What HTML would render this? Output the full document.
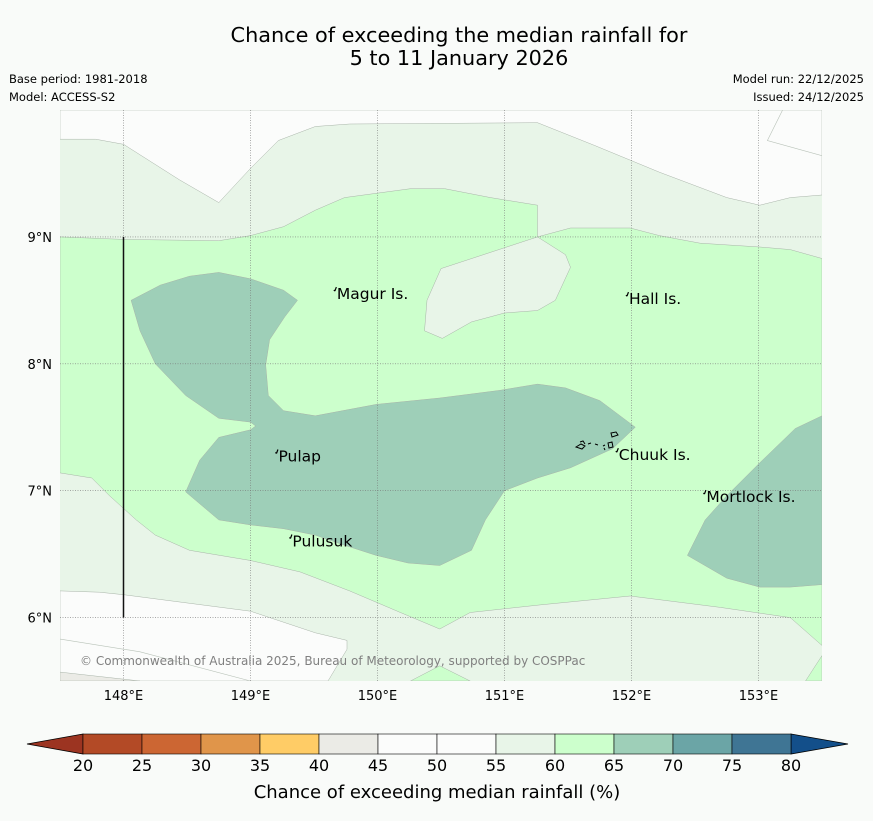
<!DOCTYPE html>
<html><head><meta charset="utf-8">
<style>
html,body{margin:0;padding:0;background:#f9fbf9;}
body{width:873px;height:816px;overflow:hidden;font-family:"Liberation Sans","DejaVu Sans",sans-serif;}
svg text{font-family:"DejaVu Sans","Liberation Sans",sans-serif;}
</style></head>
<body>
<svg id="chart" width="873" height="816" xmlns="http://www.w3.org/2000/svg">
<rect width="873" height="816" fill="#f9fbf9"/>
<text x="459" y="42" font-size="20.8" text-anchor="middle" fill="#000">Chance of exceeding the median rainfall for</text>
<text x="459" y="65" font-size="20.8" text-anchor="middle" fill="#000">5 to 11 January 2026</text>
<text x="9" y="83" font-size="11.5">Base period: 1981-2018</text>
<text x="9" y="101" font-size="11.5">Model: ACCESS-S2</text>
<text x="864" y="83" font-size="11.5" text-anchor="end">Model run: 22/12/2025</text>
<text x="864" y="101" font-size="11.5" text-anchor="end">Issued: 24/12/2025</text>
<defs><clipPath id="mapclip"><rect x="60" y="110" width="762" height="571"/></clipPath></defs>
<g id="map" clip-path="url(#mapclip)"></g>
<g id="axes"></g>
<text x="80" y="665" font-size="12" fill="#808080">© Commonwealth of Australia 2025, Bureau of Meteorology, supported by COSPPac</text>
<g id="cbar"></g>
<text x="437" y="798" font-size="18" text-anchor="middle">Chance of exceeding median rainfall (%)</text>
</svg>
<script>
const NS="http://www.w3.org/2000/svg";
// axis extents
const lonMin=147.5, lonMax=153.5, latMin=5.5, latMax=10;
const lonTicks=[148,149,150,151,152,153];
const latTicks=[6,7,8,9];
// colorbar data
const cbBounds=[20,25,30,35,40,45,50,55,60,65,70,75,80];
const cbColors=["#b34a26","#cc6633","#e0954a","#ffcc66","#ebebe6","#fbfcfb","#fbfcfb","#e8f5e8","#ccffcc","#9ecfb8","#6ba5a6","#3f7594"];
const cbUnder="#9c3421", cbOver="#134f8a";
// contour regions (lon, lat)
const regionWhiteTop=[[147.5,10],[147.5,9.77],[147.78,9.77],[148.0,9.73],[148.44,9.45],[148.75,9.27],[149.0,9.54],[149.22,9.76],[149.51,9.87],[149.78,9.89],[151.26,9.90],[151.71,9.72],[152.22,9.51],[152.75,9.31],[153.01,9.25],[153.25,9.31],[153.5,9.33],[153.5,10]];
const lineTopRight=[[153.19,10],[153.07,9.76],[153.5,9.64]];
const regionWhiteBottom=[[147.5,6.21],[147.81,6.20],[148.0,6.18],[149.0,6.05],[149.51,5.88],[149.76,5.82],[149.76,5.75],[149.61,5.5],[147.5,5.5]];
const lineBottomWhite=[[147.5,5.83],[148.13,5.73],[149.0,5.5]];
const regionGreyCorner=[[147.5,5.57],[148.13,5.5],[147.5,5.5]];
const regionGreen=[[147.5,9.0],[148.0,8.98],[148.75,8.97],[149.0,9.01],[149.26,9.08],[149.51,9.21],[149.74,9.31],[150.26,9.38],[150.53,9.38],[150.89,9.31],[151.26,9.25],[151.26,9.0],[151.52,9.07],[151.99,9.07],[152.22,9.01],[152.54,8.95],[153.01,8.92],[153.25,8.90],[153.5,8.83],[153.5,5.78],[153.25,6.0],[152.70,6.08],[151.99,6.17],[151.28,6.10],[150.73,6.04],[150.49,5.91],[150.18,6.04],[149.78,6.21],[149.39,6.36],[149.0,6.45],[148.52,6.53],[148.25,6.65],[148.10,6.77],[147.89,6.96],[147.75,7.10],[147.5,7.14]];
const regionHole=[[151.26,9.0],[151.48,8.86],[151.52,8.76],[151.40,8.50],[151.26,8.42],[151.0,8.40],[150.74,8.33],[150.51,8.20],[150.37,8.26],[150.39,8.50],[150.50,8.75]];
const regionGreenBlob1=[[150.26,5.5],[150.49,5.62],[150.73,5.5]];
const regionGreenBlob2=[[153.5,5.70],[153.37,5.5],[153.5,5.5]];
const regionTealMain=[[148.06,8.50],[148.29,8.62],[148.52,8.69],[148.75,8.72],[149.0,8.67],[149.26,8.58],[149.37,8.50],[149.27,8.37],[149.15,8.19],[149.12,7.99],[149.14,7.75],[149.26,7.63],[149.51,7.59],[149.99,7.68],[150.49,7.73],[150.96,7.79],[151.26,7.84],[151.48,7.81],[151.75,7.71],[152.03,7.50],[151.85,7.33],[151.52,7.18],[151.26,7.10],[151.0,7.0],[150.85,6.77],[150.74,6.53],[150.49,6.41],[150.24,6.43],[149.99,6.49],[149.74,6.57],[149.51,6.65],[149.26,6.70],[149.0,6.73],[148.75,6.77],[148.49,6.99],[148.60,7.24],[148.75,7.42],[149.0,7.48],[149.04,7.51],[149.0,7.54],[148.75,7.57],[148.49,7.75],[148.25,8.0],[148.13,8.26]];
const regionTealRight=[[153.5,7.59],[153.29,7.49],[153.01,7.22],[152.75,6.96],[152.58,6.77],[152.44,6.49],[152.75,6.31],[153.01,6.24],[153.25,6.24],[153.5,6.26]];
const places=["Magur Is.","Hall Is.","Pulap","Chuuk Is.","Mortlock Is.","Pulusuk"];
const placeLon=[149.68,151.98,149.22,151.90,152.59,149.33];
const placeLat=[8.51,8.47,7.23,7.24,6.91,6.56];

const X0=60,X1=822,Y0=110,Y1=681;
const xS=lon=>X0+(lon-lonMin)/(lonMax-lonMin)*(X1-X0);
const yS=lat=>Y0+(latMax-lat)/(latMax-latMin)*(Y1-Y0);
const map=document.getElementById('map'), axes=document.getElementById('axes'), cbar=document.getElementById('cbar');
function pathD(pts,close){return 'M'+pts.map(q=>xS(q[0]).toFixed(1)+','+yS(q[1]).toFixed(1)).join('L')+(close?'Z':'');}
function poly(parent,pts,fill,name){
  const p=document.createElementNS(NS,'path');
  p.setAttribute('d',pathD(pts,true));
  p.setAttribute('fill',fill);p.setAttribute('stroke','#a8b3a8');p.setAttribute('stroke-width','0.5');
  
  
  parent.appendChild(p);
}
function line(parent,pts,name){
  const p=document.createElementNS(NS,'path');
  p.setAttribute('d',pathD(pts,false));
  p.setAttribute('fill','none');p.setAttribute('stroke','#b8c2b8');p.setAttribute('stroke-width','0.6');
  
  
  parent.appendChild(p);
}
const base=document.createElementNS(NS,'rect');
base.setAttribute('x',X0);base.setAttribute('y',Y0);base.setAttribute('width',X1-X0);base.setAttribute('height',Y1-Y0);base.setAttribute('fill','#e8f5e8');


map.appendChild(base);
poly(map,regionWhiteTop,'#fbfcfb','region-below-55-north');
line(map,lineTopRight,'contour-50-north');
poly(map,regionWhiteBottom,'#fbfcfb','region-below-55-south');
line(map,lineBottomWhite,'contour-50-south');
poly(map,regionGreyCorner,'#ebebe6','region-40-45');
poly(map,regionGreen,'#ccffcc','region-60-65');
poly(map,regionHole,'#e8f5e8','region-55-60-pocket');
poly(map,regionGreenBlob1,'#ccffcc','region-60-65-south');
poly(map,regionGreenBlob2,'#ccffcc','region-60-65-southeast');
poly(map,regionTealMain,'#9ecfb8','region-65-70-main');
poly(map,regionTealRight,'#9ecfb8','region-65-70-east');
// gridlines
lonTicks.forEach(v=>{
  const l=document.createElementNS(NS,'line');
  l.setAttribute('x1',xS(v));l.setAttribute('x2',xS(v));l.setAttribute('y1',Y0);l.setAttribute('y2',Y1);
  l.setAttribute('stroke','#777');l.setAttribute('stroke-width','0.6');l.setAttribute('stroke-dasharray','1,1.5');
  
  
  map.appendChild(l);
  const t=document.createElementNS(NS,'text');
  t.setAttribute('x',xS(v));t.setAttribute('y',700);t.setAttribute('font-size','13');t.setAttribute('text-anchor','middle');
  t.textContent=v+'°E';
  
  
  axes.appendChild(t);
});
latTicks.forEach(v=>{
  const l=document.createElementNS(NS,'line');
  l.setAttribute('x1',X0);l.setAttribute('x2',X1);l.setAttribute('y1',yS(v));l.setAttribute('y2',yS(v));
  l.setAttribute('stroke','#777');l.setAttribute('stroke-width','0.6');l.setAttribute('stroke-dasharray','1,1.5');
  
  
  map.appendChild(l);
  const t=document.createElementNS(NS,'text');
  t.setAttribute('x',52);t.setAttribute('y',yS(v)+5);t.setAttribute('font-size','13');t.setAttribute('text-anchor','end');
  t.textContent=v+'°N';
  
  
  axes.appendChild(t);
});
// boundary line
const bl=document.createElementNS(NS,'line');
bl.setAttribute('x1',xS(148));bl.setAttribute('x2',xS(148));bl.setAttribute('y1',yS(9));bl.setAttribute('y2',yS(6));
bl.setAttribute('stroke','#111');bl.setAttribute('stroke-width','1.5');


map.appendChild(bl);
// places
places.forEach((n,i)=>{
  const m=document.createElementNS(NS,'path');
  const px=xS(placeLon[i]),py=yS(placeLat[i]);
  m.setAttribute('d',`M${px-2},${py-8}l1.5,-4M${px-3},${py-9}l1,1`);
  m.setAttribute('stroke','#000');m.setAttribute('stroke-width','1.2');m.setAttribute('fill','none');
  
  
  map.appendChild(m);
  const t=document.createElementNS(NS,'text');
  t.setAttribute('x',px);t.setAttribute('y',py);t.setAttribute('font-size','15.5');
  t.textContent=n;
  
  
  map.appendChild(t);
});
// chuuk islets
const ch=document.createElementNS(NS,'path');
ch.setAttribute('d','M576,447 l5,-3 4,2 -3,3z M588,444 l3,-1 M595,444 l3,1 M603,446 l2,-1 M608,443 l4,-1 1,5 -4,1z M611,433 l5,-1 2,3 -6,2z M604,448 l1,2 M580,442 l3,-1 2,3');
ch.setAttribute('stroke','#000');ch.setAttribute('stroke-width','1');ch.setAttribute('fill','none');


map.appendChild(ch);
// colorbar
const cbX0=83,cbX1=791,cbY=734,cbH=20;
const cx=v=>cbX0+(v-cbBounds[0])/(cbBounds[cbBounds.length-1]-cbBounds[0])*(cbX1-cbX0);
const tri1=document.createElementNS(NS,'path');
tri1.setAttribute('d',`M${cbX0},${cbY}L27,${cbY+cbH/2}L${cbX0},${cbY+cbH}Z`);tri1.setAttribute('fill',cbUnder);tri1.setAttribute('stroke','#000');tri1.setAttribute('stroke-width','0.8');


cbar.appendChild(tri1);
const tri2=document.createElementNS(NS,'path');
tri2.setAttribute('d',`M${cbX1},${cbY}L848,${cbY+cbH/2}L${cbX1},${cbY+cbH}Z`);tri2.setAttribute('fill',cbOver);tri2.setAttribute('stroke','#000');tri2.setAttribute('stroke-width','0.8');


cbar.appendChild(tri2);
cbColors.forEach((c,i)=>{
  const r=document.createElementNS(NS,'rect');
  r.setAttribute('x',cx(cbBounds[i]));r.setAttribute('y',cbY);r.setAttribute('width',cx(cbBounds[i+1])-cx(cbBounds[i]));r.setAttribute('height',cbH);
  r.setAttribute('fill',c);r.setAttribute('stroke','#000');r.setAttribute('stroke-width','0.6');
  
  
  cbar.appendChild(r);
});
cbBounds.forEach(v=>{
  const t=document.createElementNS(NS,'text');
  t.setAttribute('x',cx(v));t.setAttribute('y',771);t.setAttribute('font-size','16');t.setAttribute('text-anchor','middle');
  t.textContent=v;
  
  
  cbar.appendChild(t);
});
</script>
</body></html>
